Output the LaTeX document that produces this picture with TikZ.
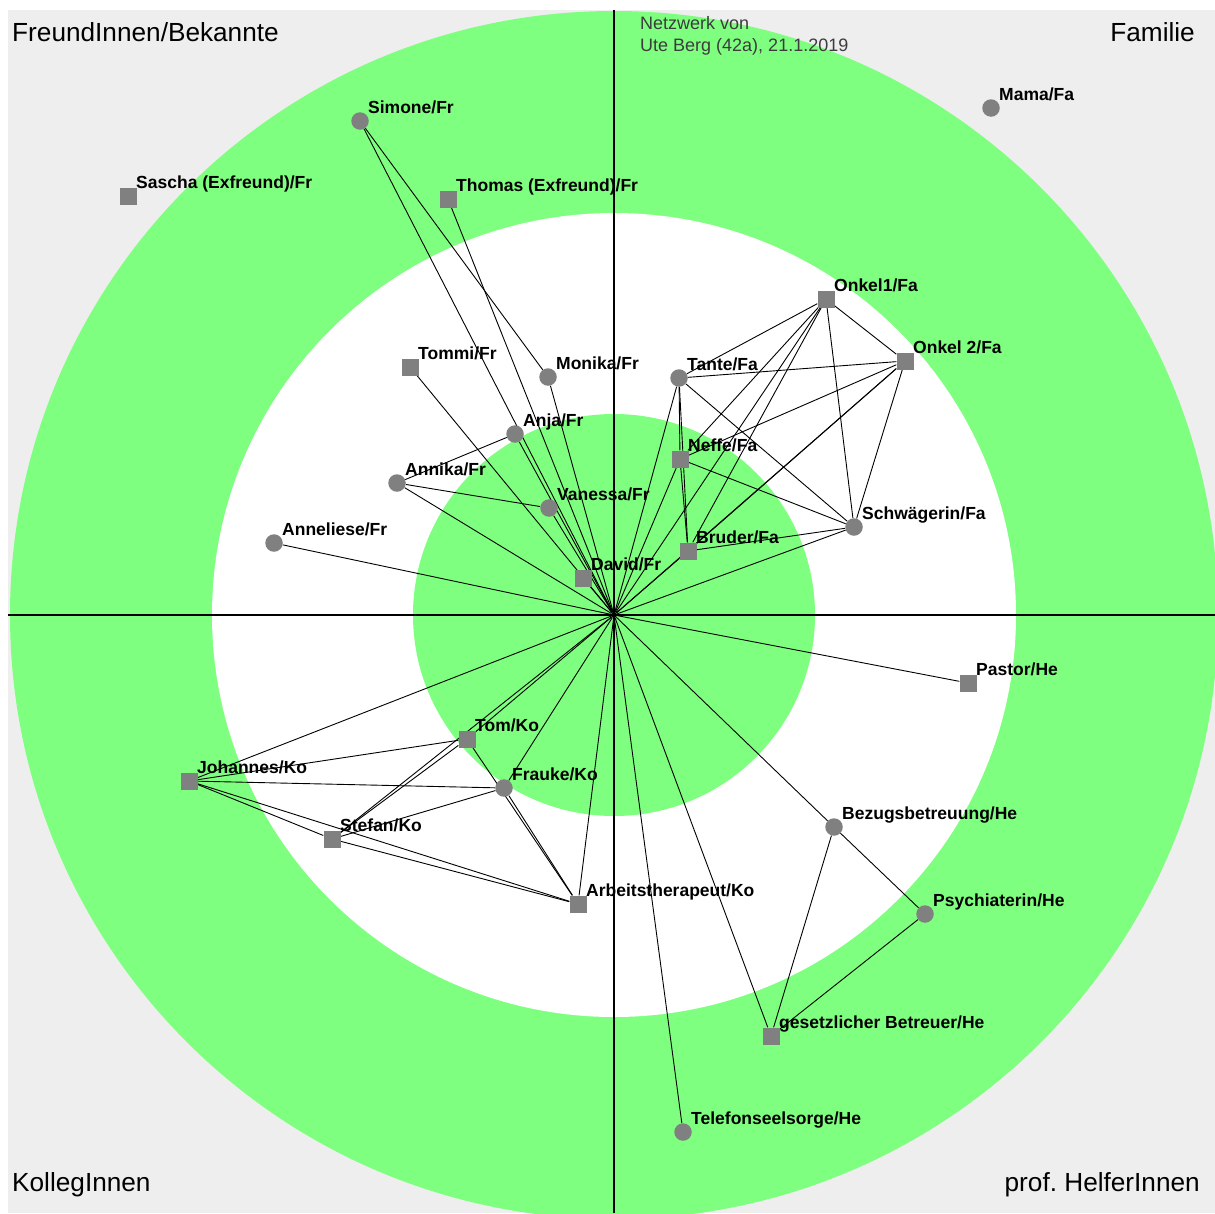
\documentclass[tikz,border=0pt]{standalone}
\usepackage{fontspec}
\setmainfont{Liberation Sans}
\definecolor{ringgreen}{RGB}{127,255,127}
\definecolor{panelgray}{RGB}{238,238,238}
\definecolor{markgray}{RGB}{128,128,128}
\definecolor{headgray}{RGB}{60,60,60}
\pgfdeclarelayer{back}
\pgfdeclarelayer{edges}
\pgfsetlayers{back,edges,main}
% one person of the network: marker node plus its name
\newcommand\member[5]{%
  \node[#2] (#1) at (#3,#4) {};
  \node[namelabel] (#1-label) at (#3+8,#4-8) {#5};}
\begin{document}
\frenchspacing
\begin{tikzpicture}[x=1pt,y=-1pt,
  person/.style={fill=markgray,draw=none,inner sep=0pt,minimum size=17pt},
  sqm/.style={person,rectangle},
  cim/.style={person,circle,minimum size=17.5pt},
  namelabel/.style={anchor=base west,inner sep=0pt,
    font=\bfseries\fontsize{17.5}{20}\selectfont},
  quadlabel/.style={inner sep=0pt,font=\fontsize{26.2}{28}\selectfont},
  headline/.style={anchor=base west,inner sep=0pt,text=headgray,
    font=\fontsize{18}{20}\selectfont},
  tie/.style={draw=black,line width=0.9pt},
  axis/.style={draw=black,line width=1.1pt}]
\useasboundingbox (0,0) rectangle (1215,1213);

% panel and rings
\begin{pgfonlayer}{back}
  \fill[white] (0,0) rectangle (1215,1213);
  \fill[panelgray] (8,10) rectangle (1215,1213);
  \begin{scope}
    \clip (8,10) rectangle (1215,1213);
    \fill[ringgreen] (614,615) circle[radius=604];
    \fill[white] (614,615) circle[radius=402];
    \fill[ringgreen] (614,615) circle[radius=201];
  \end{scope}
\end{pgfonlayer}

% axes
\coordinate (axL) at (8,615);
\coordinate (axR) at (1215,615);
\coordinate (axT) at (614,10);
\coordinate (axB) at (614,1213);

% ego
\node[circle,fill=black,inner sep=0pt,minimum size=6pt] (ego) at (614,615) {};

% quadrant titles
\node[quadlabel,anchor=base west] (qfr) at (12,41) {FreundInnen/Bekannte};
\node[quadlabel,anchor=base east] (qfa) at (1195,41) {Familie};
\node[quadlabel,anchor=base west] (qko) at (12,1191) {KollegInnen};
\node[quadlabel,anchor=base east] (qhe) at (1200,1191) {prof. HelferInnen};

% header
\node[headline] (hd1) at (640,29) {Netzwerk von};
\node[headline] (hd2) at (640,51) {Ute Berg (42a), 21.1.2019};

% friends
\member{simone}{cim}{360}{121}{Simone/Fr}
\member{sascha}{sqm}{128}{196}{Sascha (Exfreund)/Fr}
\member{thomas}{sqm}{448}{199}{Thomas (Exfreund)/Fr}
\member{tommi}{sqm}{410}{367}{Tommi/Fr}
\member{monika}{cim}{548}{377}{Monika/Fr}
\member{anja}{cim}{515}{434}{Anja/Fr}
\member{annika}{cim}{397}{483}{Annika/Fr}
\member{vanessa}{cim}{549}{508}{Vanessa/Fr}
\member{anneliese}{cim}{274}{543}{Anneliese/Fr}
\member{david}{sqm}{583}{578}{David/Fr}

% family
\member{mama}{cim}{991}{108}{Mama/Fa}
\member{onkela}{sqm}{826}{299}{Onkel1/Fa}
\member{onkelb}{sqm}{905}{361}{Onkel 2/Fa}
\member{tante}{cim}{679}{378}{Tante/Fa}
\member{neffe}{sqm}{680}{459}{Neffe/Fa}
\member{schw}{cim}{854}{527}{Schwägerin/Fa}
\member{bruder}{sqm}{688}{551}{Bruder/Fa}

% colleagues
\member{tom}{sqm}{467}{739}{Tom/Ko}
\member{johannes}{sqm}{189}{781}{Johannes/Ko}
\member{frauke}{cim}{504}{788}{Frauke/Ko}
\member{stefan}{sqm}{332}{839}{Stefan/Ko}
\member{arbeit}{sqm}{578}{904}{Arbeitstherapeut/Ko}

% professional helpers
\member{pastor}{sqm}{968}{683}{Pastor/He}
\member{bezug}{cim}{834}{827}{Bezugsbetreuung/He}
\member{psych}{cim}{925}{914}{Psychiaterin/He}
\member{gesetz}{sqm}{771}{1036}{gesetzlicher Betreuer/He}
\member{telefon}{cim}{683}{1132}{Telefonseelsorge/He}

% ties
\begin{pgfonlayer}{edges}
  \draw[axis] (axL) -- (axR);
  \draw[axis] (axT) -- (axB);
  \foreach \p in {simone,thomas,tommi,monika,anja,annika,vanessa,anneliese,david,
                  tante,neffe,bruder,onkela,onkelb,schw,
                  johannes,tom,frauke,stefan,arbeit,
                  pastor,bezug,gesetz,telefon}
    \draw[tie] (ego) -- (\p);
  \foreach \a/\b in {simone/monika,annika/anja,annika/vanessa,
      tante/neffe,tante/bruder,tante/onkela,tante/onkelb,tante/schw,
      neffe/bruder,neffe/onkela,neffe/onkelb,neffe/schw,
      bruder/onkela,bruder/onkelb,bruder/schw,
      onkela/onkelb,onkela/schw,onkelb/schw,
      johannes/tom,johannes/frauke,johannes/stefan,johannes/arbeit,
      stefan/tom,stefan/frauke,stefan/arbeit,tom/arbeit,frauke/arbeit,
      bezug/psych,bezug/gesetz,psych/gesetz}
    \draw[tie] (\a) -- (\b);
\end{pgfonlayer}
\end{tikzpicture}
\end{document}
